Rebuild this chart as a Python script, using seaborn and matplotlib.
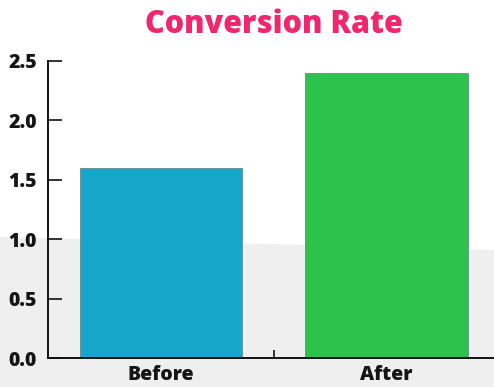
import matplotlib
matplotlib.use("Agg")
import matplotlib.pyplot as plt
from matplotlib.patches import Polygon
import seaborn as sns
import pandas as pd

# Conversion rate before and after the change
stages = ["Before", "After"]
rates = [1.6, 2.4]
bar_colors = ["#16a7cb", "#2cc24b"]
y_ticks = [0.0, 0.5, 1.0, 1.5, 2.0, 2.5]

df = pd.DataFrame({"stage": stages, "rate": rates})

sns.set_theme(style="white")
plt.rcParams["font.family"] = ["Open Sans", "DejaVu Sans"]

W, H = 494, 387
fig = plt.figure(figsize=(W / 100, H / 100), dpi=100)
fig.patch.set_facecolor("white")

# light grey backdrop across the lower part of the canvas
fig.patches.append(Polygon([(0, 0), (1, 0), (1, 1 - 250 / H), (0, 1 - 237 / H)],
                           closed=True, transform=fig.transFigure,
                           facecolor="#efefef", edgecolor="none", zorder=-1))

ax = fig.add_axes([48 / W, 1 - 358 / H, (W - 48) / W, (358 - 61) / H])
ax.set_zorder(1)
ax.set_facecolor("none")

sns.barplot(data=df, x="stage", y="rate", hue="stage", palette=bar_colors,
            saturation=1, width=0.72, edgecolor="#5f8f8f", linewidth=0.6,
            legend=False, ax=ax)

ax.set_xlim(-0.5, 1.477)
ax.set_ylim(0, 2.5)
ax.set_yticks(y_ticks)
ax.set_yticklabels([f"{v:.1f}" for v in y_ticks])
ax.set_xlabel("")
ax.set_ylabel("")

for side in ("top", "right"):
    ax.spines[side].set_visible(False)
for side in ("left", "bottom"):
    ax.spines[side].set_color("#111111")
    ax.spines[side].set_linewidth(1.4)

ax.tick_params(axis="y", direction="in", length=10, width=1.2, color="#111111",
               labelsize=14, pad=8, left=True)
ax.tick_params(axis="x", length=0, labelsize=14, pad=5)
ax.set_xticks([0.5], minor=True)
ax.tick_params(axis="x", which="minor", direction="in", length=6, width=1.2,
               color="#111111", bottom=True)
for lbl in ax.get_yticklabels() + ax.get_xticklabels():
    lbl.set_fontweight(800)
    lbl.set_color("#151515")

fig.text((48 + W) / 2 / W + 0.005, 1 - 25 / H, "Conversion Rate", ha="center", va="center",
         fontsize=22, fontweight=800, color="#f0266f")

fig.savefig("out.png", dpi=100)
